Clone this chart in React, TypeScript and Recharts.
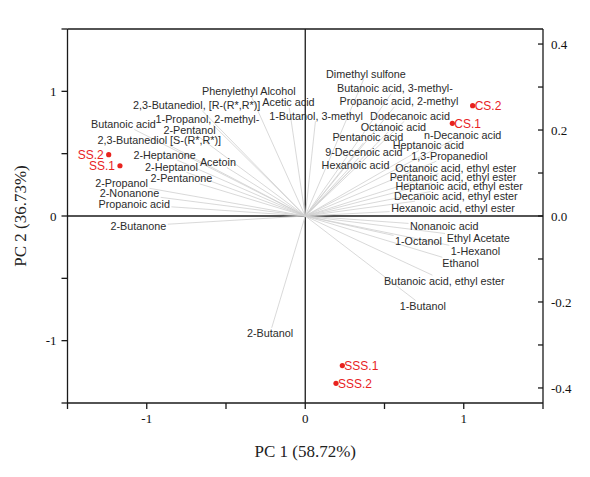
import React from 'react';
import { ScatterChart, Scatter, XAxis, YAxis, ReferenceLine } from 'recharts';

// ---------- data ----------
const sampleNames = ['SS.1', 'SS.2', 'CS.1', 'CS.2', 'SSS.1', 'SSS.2'];
const samplePC1 = [-1.169, -1.24, 0.928, 1.056, 0.234, 0.194];
const samplePC2 = [0.403, 0.492, 0.743, 0.885, -1.2, -1.342];

const variableNames = [
  'Phenylethyl Alcohol', '2,3-Butanediol, [R-(R*,R*)]', 'Acetic acid', '1-Butanol, 3-methyl',
  'Butanoic acid', '1-Propanol, 2-methyl-', '2-Pentanol', '2,3-Butanediol [S-(R*,R*)]',
  '2-Heptanone', 'Acetoin', '2-Heptanol', '2-Pentanone', '2-Propanol', '2-Nonanone',
  'Propanoic acid', '2-Butanone', '2-Butanol',
  'Dimethyl sulfone', 'Butanoic acid, 3-methyl-', 'Propanoic acid, 2-methyl', 'Dodecanoic acid',
  'Octanoic acid', 'Pentanoic acid', 'n-Decanoic acid', 'Heptanoic acid', '9-Decenoic acid',
  '1,3-Propanediol', 'Hexanoic acid', 'Octanoic acid, ethyl ester', 'Pentanoic acid, ethyl ester',
  'Heptanoic acid, ethyl ester', 'Decanoic acid, ethyl ester', 'Hexanoic acid, ethyl ester',
  'Nonanoic acid', 'Ethyl Acetate', '1-Octanol', '1-Hexanol', 'Ethanol',
  'Butanoic acid, ethyl ester', '1-Butanol',
];
const variablePC1 = [
  -0.356, -0.685, -0.106, 0.068, -1.147, -0.617, -0.73, -0.921, -0.887, -0.551, -0.844, -0.781,
  -1.159, -1.109, -1.079, -1.053, -0.222,
  0.383, 0.566, 0.591, 0.661, 0.556, 0.395, 0.993, 0.777, 0.37, 0.91, 0.317, 0.95, 0.932, 0.971,
  0.95, 0.932, 0.877, 1.092, 0.714, 1.074, 0.98, 0.877, 0.742,
];
const variablePC2 = [
  1.005, 0.89, 0.912, 0.804, 0.738, 0.775, 0.69, 0.609, 0.492, 0.433, 0.395, 0.302, 0.262, 0.182,
  0.094, -0.08, -0.941,
  1.139, 1.024, 0.92, 0.804, 0.716, 0.631, 0.65, 0.569, 0.511, 0.484, 0.409, 0.383, 0.31, 0.241,
  0.163, 0.062, -0.08, -0.174, -0.2, -0.278, -0.375, -0.519, -0.722,
];

const xTicks = [-1.5, -1, -0.5, 0, 0.5, 1, 1.5];
const yTicks = [-1.5, -1, -0.5, 0, 0.5, 1, 1.5];
const loadingYTicks = [-0.4, -0.3, -0.2, -0.1, 0, 0.1, 0.2, 0.3, 0.4];
const loadingXTicks = [-0.4, 0, 0.4];
const X_DOMAIN: [number, number] = [-1.5, 1.5];
const Y_DOMAIN: [number, number] = [-1.5, 1.5];
const LOAD_X_DOMAIN: [number, number] = [-0.465, 0.465];
const LOAD_Y_DOMAIN: [number, number] = [-0.435, 0.435];

const samples = sampleNames.map((name, i) => ({ name, pc1: samplePC1[i], pc2: samplePC2[i] }));
const variables = variableNames.map((name, i) => ({ name, pc1: variablePC1[i], pc2: variablePC2[i] }));

// ---------- layout ----------
const CHART_W = 590;
const CHART_H = 477;
const MARGIN = { top: 9, right: 7, bottom: 14, left: 7.5 };
const LEFT_W = 60;
const RIGHT_W = 40;
const TOP_H = 20;
const BOTTOM_H = 60;
const PLOT_W = CHART_W - MARGIN.left - MARGIN.right - LEFT_W - RIGHT_W;
const PLOT_H = CHART_H - MARGIN.top - MARGIN.bottom - TOP_H - BOTTOM_H;
const PX_X = PLOT_W / (X_DOMAIN[1] - X_DOMAIN[0]);
const PX_Y = PLOT_H / (Y_DOMAIN[1] - Y_DOMAIN[0]);

const SANS = '"Liberation Sans", Arial, sans-serif';
const SERIF = '"Liberation Serif", "Times New Roman", serif';
const VAR_SIZE = 10.8;
const AXIS_COLOR = '#1a1a1a';
const RED = '#e8231f';

let measureCtx: CanvasRenderingContext2D | null = null;
function textWidth(s: string, size: number): number {
  if (!measureCtx && typeof document !== 'undefined') {
    const c = document.createElement('canvas');
    measureCtx = c.getContext('2d');
  }
  if (measureCtx) {
    measureCtx.font = `${size}px "Liberation Sans", Arial, sans-serif`;
    return measureCtx.measureText(s).width;
  }
  return s.length * size * 0.5;
}

function entryT(ox: number, oy: number, cx: number, cy: number, hw: number, hh: number): number {
  const d = [cx - ox, cy - oy];
  const o = [ox, oy];
  const lo = [cx - hw, cy - hh];
  const hi = [cx + hw, cy + hh];
  let tmin = 0;
  let tmax = 1;
  for (let k = 0; k < 2; k++) {
    if (Math.abs(d[k]) < 1e-9) continue;
    const t1 = (lo[k] - o[k]) / d[k];
    const t2 = (hi[k] - o[k]) / d[k];
    tmin = Math.max(tmin, Math.min(t1, t2));
    tmax = Math.min(tmax, Math.max(t1, t2));
  }
  return tmin <= tmax ? tmin : 1;
}

const LoadingLine = (props: any) => {
  const { cx, cy, payload } = props;
  if (cx == null || cy == null || !payload) return null;
  const ox = cx - payload.pc1 * PX_X;
  const oy = cy + payload.pc2 * PX_Y;
  const hw = textWidth(payload.name, VAR_SIZE) / 2 + 1.5;
  const t = entryT(ox, oy, cx, cy, hw, 5.5);
  return (
    <line
      x1={ox}
      y1={oy}
      x2={ox + t * (cx - ox)}
      y2={oy + t * (cy - oy)}
      stroke="#cfcfcf"
      strokeWidth={0.8}
    />
  );
};

const LoadingLabel = (props: any) => {
  const { cx, cy, payload } = props;
  if (cx == null || cy == null || !payload) return null;
  return (
    <text x={cx} y={cy} dy="0.36em" textAnchor="middle" fontSize={VAR_SIZE} fontFamily={SANS} fill="#2b2b2b">
      {payload.name}
    </text>
  );
};

const SampleMark = (props: any) => {
  const { cx, cy, payload } = props;
  if (cx == null || cy == null || !payload) return null;
  const left = payload.pc1 < 0;
  return (
    <g>
      <circle cx={cx} cy={cy} r={2.6} fill={RED} />
      <text
        x={left ? cx - 5 : cx + 2}
        y={cy}
        dy="0.36em"
        textAnchor={left ? 'end' : 'start'}
        fontSize={12}
        fontFamily={SANS}
        fill={RED}
      >
        {payload.name}
      </text>
    </g>
  );
};

const RightTick = (props: any) => {
  const { x, y, payload } = props;
  const v = payload.value;
  const labeled = Math.abs(Math.round(v * 10)) % 2 === 0;
  return (
    <g>
      <line x1={x - 5} y1={y} x2={x} y2={y} stroke={AXIS_COLOR} strokeWidth={1.3} />
      {labeled && (
        <text x={x + 8} y={y} dy="0.35em" textAnchor="start" fontSize={13} fontFamily={SERIF} fill="#111">
          {v.toFixed(1)}
        </text>
      )}
    </g>
  );
};

const TopTick = (props: any) => {
  const { x, y, payload } = props;
  const v = payload.value;
  return (
    <g>
      <line x1={x} y1={y} x2={x} y2={y + 5} stroke={AXIS_COLOR} strokeWidth={1.3} />
      {v === 0 && (
        <text x={x} y={y - 12} textAnchor="middle" fontSize={13} fontFamily={SERIF} fill="#111">
          {v.toFixed(1)}
        </text>
      )}
    </g>
  );
};

const intLabel = (v: number) => (Number.isInteger(v) ? String(v) : '');

export default function App() {
  return (
    <div style={{ position: 'absolute', left: 0, top: 0, width: CHART_W, height: CHART_H, background: '#fff' }}>
      <ScatterChart width={CHART_W} height={CHART_H} margin={MARGIN}>
        <XAxis
          xAxisId="bottom"
          orientation="bottom"
          type="number"
          dataKey="pc1"
          domain={X_DOMAIN}
          ticks={xTicks}
          tickFormatter={intLabel}
          allowDataOverflow
          height={BOTTOM_H}
          tickSize={6}
          tickMargin={5}
          stroke={AXIS_COLOR}
          axisLine={{ stroke: AXIS_COLOR, strokeWidth: 1.3 }}
          tickLine={{ stroke: AXIS_COLOR, strokeWidth: 1.3 }}
          tick={{ fontFamily: SERIF, fontSize: 13, fill: '#111' }}
          label={{
            value: 'PC 1 (58.72%)',
            position: 'insideBottom',
            offset: 6,
            style: { fontFamily: SERIF, fontSize: 17, fill: '#222' },
          }}
        />
        <XAxis
          xAxisId="top"
          orientation="top"
          type="number"
          domain={LOAD_X_DOMAIN}
          ticks={loadingXTicks}
          allowDataOverflow
          height={TOP_H}
          tickSize={0}
          tickMargin={0}
          tickLine={false}
          axisLine={{ stroke: AXIS_COLOR, strokeWidth: 1.3 }}
          tick={<TopTick />}
        />
        <YAxis
          yAxisId="left"
          orientation="left"
          type="number"
          dataKey="pc2"
          domain={Y_DOMAIN}
          ticks={yTicks}
          tickFormatter={intLabel}
          allowDataOverflow
          width={LEFT_W}
          tickSize={6}
          tickMargin={5}
          stroke={AXIS_COLOR}
          axisLine={{ stroke: AXIS_COLOR, strokeWidth: 1.3 }}
          tickLine={{ stroke: AXIS_COLOR, strokeWidth: 1.3 }}
          tick={{ fontFamily: SERIF, fontSize: 13, fill: '#111' }}
          label={{
            value: 'PC 2 (36.73%)',
            angle: -90,
            position: 'insideLeft',
            offset: 12,
            style: { textAnchor: 'middle', fontFamily: SERIF, fontSize: 17, fill: '#222' },
          }}
        />
        <YAxis
          yAxisId="right"
          orientation="right"
          type="number"
          domain={LOAD_Y_DOMAIN}
          ticks={loadingYTicks}
          allowDataOverflow
          width={RIGHT_W}
          tickSize={0}
          tickMargin={0}
          tickLine={false}
          axisLine={{ stroke: AXIS_COLOR, strokeWidth: 1.3 }}
          tick={<RightTick />}
        />
        <ReferenceLine xAxisId="bottom" yAxisId="left" x={0} stroke={AXIS_COLOR} strokeWidth={1.3} />
        <ReferenceLine xAxisId="bottom" yAxisId="left" y={0} stroke={AXIS_COLOR} strokeWidth={1.3} />
        <Scatter
          xAxisId="bottom"
          yAxisId="left"
          data={variables}
          dataKey="pc2"
          shape={(p: any) => <LoadingLine {...p} />}
          isAnimationActive={false}
        />
        <Scatter
          xAxisId="bottom"
          yAxisId="left"
          data={variables}
          dataKey="pc2"
          shape={(p: any) => <LoadingLabel {...p} />}
          isAnimationActive={false}
        />
        <Scatter
          xAxisId="bottom"
          yAxisId="left"
          data={samples}
          dataKey="pc2"
          shape={(p: any) => <SampleMark {...p} />}
          isAnimationActive={false}
        />
      </ScatterChart>
    </div>
  );
}
